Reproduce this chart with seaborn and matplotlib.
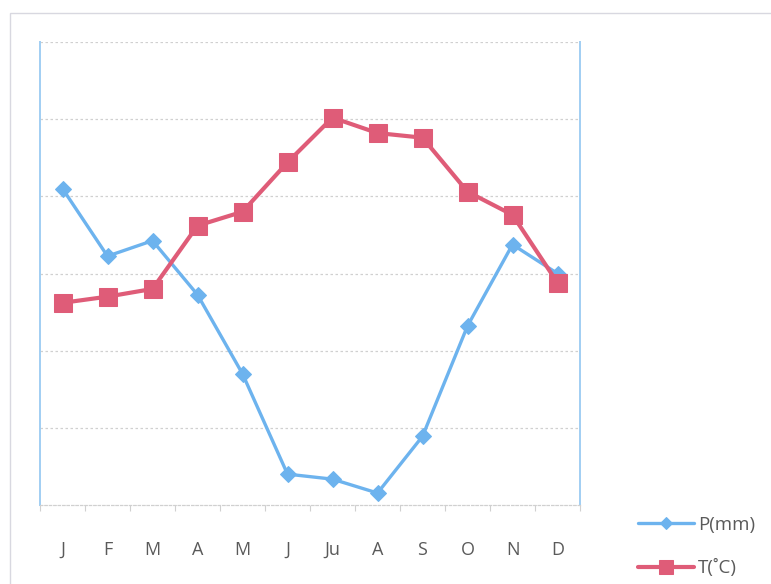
import matplotlib
matplotlib.use("Agg")
import matplotlib.pyplot as plt
from matplotlib.patches import Rectangle
from matplotlib.ticker import MultipleLocator, FixedLocator
import seaborn as sns
import pandas as pd
import numpy as np

# Monthly climate data
months = ["J", "F", "M", "A", "M", "J", "Ju", "A", "S", "O", "N", "D"]
precip_mm = [82, 64.5, 68.5, 54.5, 34, 8, 6.7, 3.1, 17.8, 46.4, 67.5, 60]
temp_c = [13.1, 13.5, 14.0, 18.1, 19.0, 22.2, 25.1, 24.1, 23.8, 20.3, 18.8, 14.4]
series_names = ["P(mm)", "T(˚C)"]

blue = "#6DB3EE"
red = "#DF5C78"
axis_blue = "#A3CFF3"
grid_gray = "#D0D0D0"
text_gray = "#5A5A5A"

sns.set_style("white")
plt.rcParams["font.family"] = ["Open Sans", "DejaVu Sans"]

df = pd.DataFrame({"pos": np.arange(len(months)), "P": precip_mm, "T": temp_c})

fig = plt.figure(figsize=(7.71, 5.84), dpi=100)
ax = fig.add_axes([40 / 771, 1 - 505 / 584, 540 / 771, 463 / 584])
ax2 = ax.twinx()

# outer chart frame
fig.patches.append(Rectangle((10 / 771, -0.1), 1.2, 1 - 13 / 584 + 0.1,
                             transform=fig.transFigure, fill=False,
                             edgecolor="#D8D8E0", linewidth=1.0, zorder=0))

sns.lineplot(data=df, x="pos", y="P", ax=ax, color=blue, linewidth=2.4,
             marker="D", markersize=8, markeredgecolor=blue, label=series_names[0],
             legend=False)
sns.lineplot(data=df, x="pos", y="T", ax=ax2, color=red, linewidth=3.0,
             marker="s", markersize=12.5, markeredgecolor=red, label=series_names[1],
             legend=False)

ax.set_xlim(-0.5, len(months) - 0.5)
ax.set_ylim(0, 120)
ax2.set_ylim(0, 30)
ax.yaxis.set_major_locator(MultipleLocator(20))
ax2.yaxis.set_major_locator(MultipleLocator(5))

# dotted horizontal grid
for v in np.arange(20, 121, 20):
    ax.axhline(v, color=grid_gray, linestyle=(0, (2, 2)), linewidth=0.9, zorder=0)

ax.set_xlabel("")
ax.set_ylabel("")
ax2.set_ylabel("")
ax.set_yticklabels([])
ax2.set_yticklabels([])
ax.tick_params(axis="y", length=0)
ax2.tick_params(axis="y", length=0)

ax.xaxis.set_major_locator(FixedLocator(np.arange(len(months))))
ax.set_xticklabels(months)
ax.xaxis.set_minor_locator(FixedLocator(np.arange(-0.5, len(months), 1.0)))
ax.tick_params(axis="x", which="major", length=0, pad=26, labelsize=13,
               labelcolor=text_gray)
ax.tick_params(axis="x", which="minor", length=4, width=0.8, color=grid_gray,
               direction="out")
ax.xaxis.set_ticks_position("bottom")
ax.xaxis.set_tick_params(which="minor", bottom=True)

for a in (ax, ax2):
    a.spines["top"].set_visible(False)
    a.spines["left"].set_color(axis_blue)
    a.spines["right"].set_color(axis_blue)
    a.spines["bottom"].set_color(grid_gray)
    a.spines["left"].set_linewidth(1.4)
    a.spines["right"].set_linewidth(1.4)
    a.spines["bottom"].set_linestyle((0, (2, 2)))
    a.patch.set_visible(False)

ax.set_zorder(1)
ax2.set_zorder(2)

handles = [ax.get_lines()[0], ax2.get_lines()[0]]
fig.legend(handles, series_names, loc="upper left",
           bbox_to_anchor=(621 / 771, 1 - 499 / 584), frameon=False,
           fontsize=13.5, handlelength=3.0, labelspacing=1.35,
           handletextpad=0.2, labelcolor=text_gray, markerscale=0.75)

fig.savefig("out.png", dpi=100, facecolor="white")
